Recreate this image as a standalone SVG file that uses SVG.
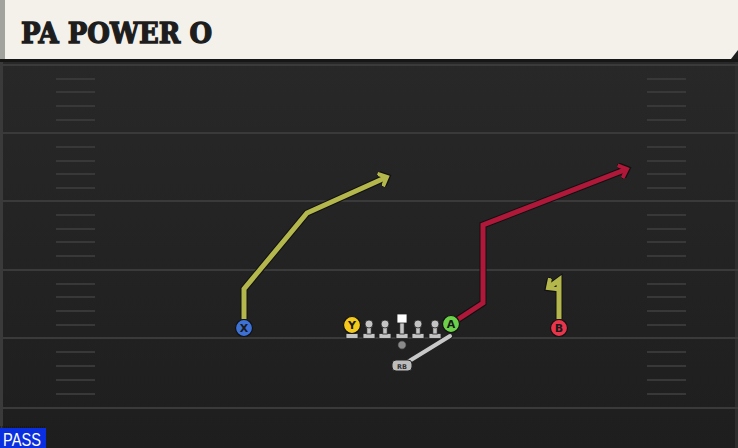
<svg xmlns="http://www.w3.org/2000/svg" width="738" height="448" viewBox="0 0 738 448">
<style>
.yl{stroke:#3a3a3a;stroke-width:2}
.hs{stroke:#383838;stroke-width:2}
.out{fill:none;stroke:#111;stroke-width:7;stroke-linejoin:miter;stroke-linecap:butt}
.olive{fill:none;stroke:#b4b84c;stroke-width:5;stroke-linejoin:miter}
.red{fill:none;stroke:#b0183a;stroke-width:5;stroke-linejoin:miter}
.pl{stroke:#111;stroke-width:1.2}
.lt{font-family:"DejaVu Sans",sans-serif;font-weight:bold;font-size:11px;fill:#1a1a1a;text-anchor:middle}
.lm{fill:#c4c4c4;stroke:#222;stroke-width:0.8}
</style>
<defs>
<linearGradient id="fg" x1="0" y1="0" x2="0" y2="1">
<stop offset="0" stop-color="#282828"/>
<stop offset="1" stop-color="#1e1e1e"/>
</linearGradient>
<marker id="ao" viewBox="-8 -8 16 16" markerWidth="16" markerHeight="16" refX="0" refY="0" orient="auto" markerUnits="userSpaceOnUse">
<polyline points="-6,-5.5 0,0 -6,5.5" fill="none" stroke="#111" stroke-width="6.5" stroke-linecap="square"/>
</marker>
<marker id="ay" viewBox="-8 -8 16 16" markerWidth="16" markerHeight="16" refX="0" refY="0" orient="auto" markerUnits="userSpaceOnUse">
<polyline points="-6,-5.5 0,0 -6,5.5" fill="none" stroke="#b4b84c" stroke-width="4" stroke-linecap="square"/>
</marker>
<marker id="ar" viewBox="-8 -8 16 16" markerWidth="16" markerHeight="16" refX="0" refY="0" orient="auto" markerUnits="userSpaceOnUse">
<polyline points="-6,-5.5 0,0 -6,5.5" fill="none" stroke="#b0183a" stroke-width="4" stroke-linecap="square"/>
</marker>
<g id="lineman">
<rect x="-6" y="9.5" width="12" height="5" class="lm"/>
<rect x="-2.2" y="1" width="4.4" height="9" class="lm"/>
<circle cx="0" cy="0" r="4" class="lm"/>
</g>
</defs>

<rect x="0" y="0" width="738" height="448" fill="#1e1e1e"/>
<rect x="0" y="60" width="738" height="388" fill="url(#fg)"/>
<rect x="0" y="60" width="3" height="388" fill="#3a3a3a"/>
<rect x="735" y="60" width="3" height="388" fill="#2e2e2e"/>

<g id="field">
<line class="yl" x1="0" y1="65" x2="738" y2="65"/>
<line class="yl" x1="0" y1="133" x2="738" y2="133"/>
<line class="yl" x1="0" y1="201" x2="738" y2="201"/>
<line class="yl" x1="0" y1="270" x2="738" y2="270"/>
<line class="yl" x1="0" y1="338" x2="738" y2="338"/>
<line class="yl" x1="0" y1="408" x2="738" y2="408"/>
<g id="hashL">
<line class="hs" x1="56" y1="79" x2="95" y2="79"/>
<line class="hs" x1="56" y1="92" x2="95" y2="92"/>
<line class="hs" x1="56" y1="106" x2="95" y2="106"/>
<line class="hs" x1="56" y1="120" x2="95" y2="120"/>
<line class="hs" x1="56" y1="147" x2="95" y2="147"/>
<line class="hs" x1="56" y1="161" x2="95" y2="161"/>
<line class="hs" x1="56" y1="174" x2="95" y2="174"/>
<line class="hs" x1="56" y1="188" x2="95" y2="188"/>
<line class="hs" x1="56" y1="215" x2="95" y2="215"/>
<line class="hs" x1="56" y1="229" x2="95" y2="229"/>
<line class="hs" x1="56" y1="242" x2="95" y2="242"/>
<line class="hs" x1="56" y1="256" x2="95" y2="256"/>
<line class="hs" x1="56" y1="284" x2="95" y2="284"/>
<line class="hs" x1="56" y1="297" x2="95" y2="297"/>
<line class="hs" x1="56" y1="311" x2="95" y2="311"/>
<line class="hs" x1="56" y1="325" x2="95" y2="325"/>
<line class="hs" x1="56" y1="352" x2="95" y2="352"/>
<line class="hs" x1="56" y1="366" x2="95" y2="366"/>
<line class="hs" x1="56" y1="380" x2="95" y2="380"/>
<line class="hs" x1="56" y1="394" x2="95" y2="394"/>
</g>
<use href="#hashL" x="591"/>
</g>

<g id="header">
<path d="M0,0 H738 V50 L731,59 H0 Z" fill="#f4f1eb"/>
<rect x="0" y="0" width="5" height="59" fill="#a3a39e"/>
<rect x="0" y="59" width="738" height="3" fill="#161616"/>
<text x="21" y="43" font-family="'DejaVu Serif',serif" font-weight="bold" font-size="27" fill="#1d1d1d" stroke="#1d1d1d" stroke-width="1.3" textLength="191" lengthAdjust="spacingAndGlyphs">PA POWER O</text>
</g>

<g id="connectors">
<polyline class="out" points="244,319 244,289 307,213 387,177" marker-end="url(#ao)"/>
<polyline class="olive" points="244,319 244,289 307,213 387,177" marker-end="url(#ay)"/>
<polyline class="out" points="457,320 483,303 483,225 627,169" marker-end="url(#ao)"/>
<polyline class="red" points="457,320 483,303 483,225 627,169" marker-end="url(#ar)"/>
<path class="out" d="M559,319 V280 L548,288" marker-end="url(#ao)"/>
<path class="olive" d="M559,319 V280 L548,288" marker-end="url(#ay)"/>
<line x1="406" y1="363" x2="450" y2="336" stroke="#222" stroke-width="6" stroke-linecap="round"/>
<line x1="406" y1="363" x2="450" y2="336" stroke="#c8c8c8" stroke-width="4" stroke-linecap="round"/>
</g>

<g id="lineL2"><use href="#lineman" x="369" y="324"/></g>
<g id="lineL1"><use href="#lineman" x="385" y="324"/></g>
<g id="center">
<rect x="396" y="333.5" width="12" height="5" class="lm"/>
<rect x="399.8" y="322" width="4.4" height="12" class="lm"/>
<rect x="397" y="314" width="10" height="9" fill="#ffffff" stroke="#222" stroke-width="0.8"/>
</g>
<g id="lineR1"><use href="#lineman" x="418" y="324"/></g>
<g id="lineR2"><use href="#lineman" x="435" y="324"/></g>

<g id="qb"><circle cx="402" cy="345" r="4.2" fill="#8a8a8a" stroke="#222" stroke-width="0.8"/></g>
<g id="rb">
<rect x="392" y="360" width="20" height="11" rx="4" fill="#bdbdbd" stroke="#222" stroke-width="1"/>
<text x="402" y="368.5" font-family="'DejaVu Sans',sans-serif" font-size="6.5" font-weight="bold" fill="#333" text-anchor="middle">RB</text>
</g>

<g id="Y">
<rect x="346" y="333.5" width="12" height="5" class="lm"/>
<circle cx="352" cy="325" r="8.5" fill="#f3c91e" class="pl"/>
<text x="352" y="329" class="lt">Y</text>
</g>
<g id="X">
<circle cx="244" cy="328" r="8.5" fill="#3d71d6" class="pl"/>
<text x="244" y="332" class="lt">X</text>
</g>
<g id="A">
<circle cx="451" cy="324" r="8.5" fill="#6cd04a" class="pl"/>
<text x="451" y="328" class="lt">A</text>
</g>
<g id="B">
<circle cx="559" cy="328" r="8.5" fill="#e8354b" class="pl"/>
<text x="559" y="332" class="lt">B</text>
</g>

<g id="pass">
<line x1="0" y1="427" x2="46" y2="427" stroke="#111" stroke-width="1" stroke-dasharray="1,1"/>
<rect x="0" y="428" width="46" height="20" fill="#0a2fe0"/>
<text x="3" y="445.5" font-family="'Liberation Sans',sans-serif" font-size="17.5" fill="#ffffff" textLength="38" lengthAdjust="spacingAndGlyphs">PASS</text>
</g>
</svg>
